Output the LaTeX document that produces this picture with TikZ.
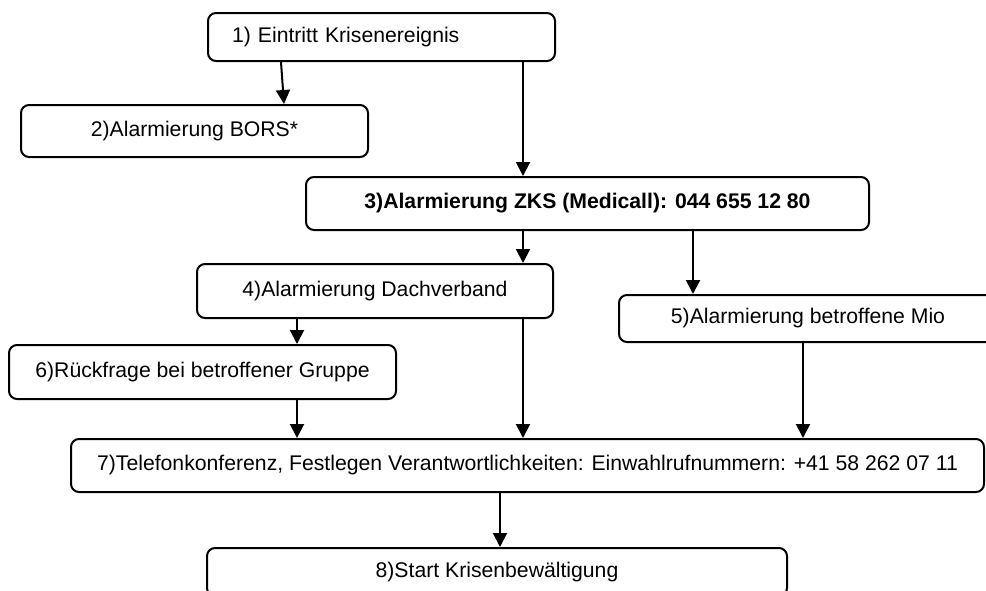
\documentclass[tikz,border=0pt]{standalone}
\usepackage{fontspec}
\setmainfont{Liberation Sans}
\usetikzlibrary{arrows.meta}
\begin{document}
\begin{tikzpicture}[x=0.75pt,y=-0.75pt,
  box/.style={draw=black,line width=1.5pt,rounded corners=6pt,fill=white,
    inner sep=0pt,font=\fontsize{15.9}{19}\selectfont,align=center},
  arr/.style={line width=1.5pt,-{Triangle[length=10.5pt,width=10.5pt]}},
  ln/.style={line width=1.5pt}]
\useasboundingbox (0,0) rectangle (986,590);
\clip (0,0) rectangle (986,590);
\node[box,minimum width=260.25pt,minimum height=36pt,text width=224.25pt,align=left,inner xsep=18pt] (b1) at (381.5,37) {1) Eintritt Krisenereignis};
\node[box,minimum width=260.25pt,minimum height=39pt] (b2) at (194.5,131) {2)Alarmierung BORS*};
\node[box,minimum width=422.25pt,minimum height=39.75pt,font=\fontsize{15.9}{19}\selectfont\bfseries] (b3) at (587.5,203.5) {3)Alarmierung ZKS (Medicall): 044 655 12 80};
\node[box,minimum width=267pt,minimum height=40.5pt] (b4) at (375,291) {4)Alarmierung Dachverband};
\node[box,minimum width=283.5pt,minimum height=35.25pt] (b5) at (808,318.5) {5)Alarmierung betroffene Mio};
\node[box,minimum width=290.25pt,minimum height=40.5pt] (b6) at (202.5,372) {6)Rückfrage bei betroffener Gruppe};
\node[box,minimum width=684.75pt,minimum height=39.75pt] (b7) at (527.5,465.5) {7)Telefonkonferenz, Festlegen Verantwortlichkeiten: Einwahlrufnummern: +41 58 262 07 11};
\node[box,minimum width=435pt,minimum height=36pt] (b8) at (497,572) {8)Start Krisenbewältigung};
\draw[arr] (b1.south -| 281,0) -- (b2.north -| 284,0);
\draw[arr] (b1.south -| 523,0) -- (b3.north -| 523,0);
\draw[arr] (b3.south -| 523,0) -- (b4.north -| 523,0);
\draw[arr] (b3.south -| 693,0) -- (b5.north -| 693,0);
\draw[arr] (b4.south -| 297,0) -- (b6.north -| 297,0);
\draw[arr] (b6.south -| 297,0) -- (b7.north -| 297,0);
\draw[arr] (b4.south -| 523,0) -- (b7.north -| 523,0);
\draw[arr] (b5.south -| 803,0) -- (b7.north -| 803,0);
\draw[arr] (b7.south -| 500,0) -- (b8.north -| 500,0);
\end{tikzpicture}
\end{document}
